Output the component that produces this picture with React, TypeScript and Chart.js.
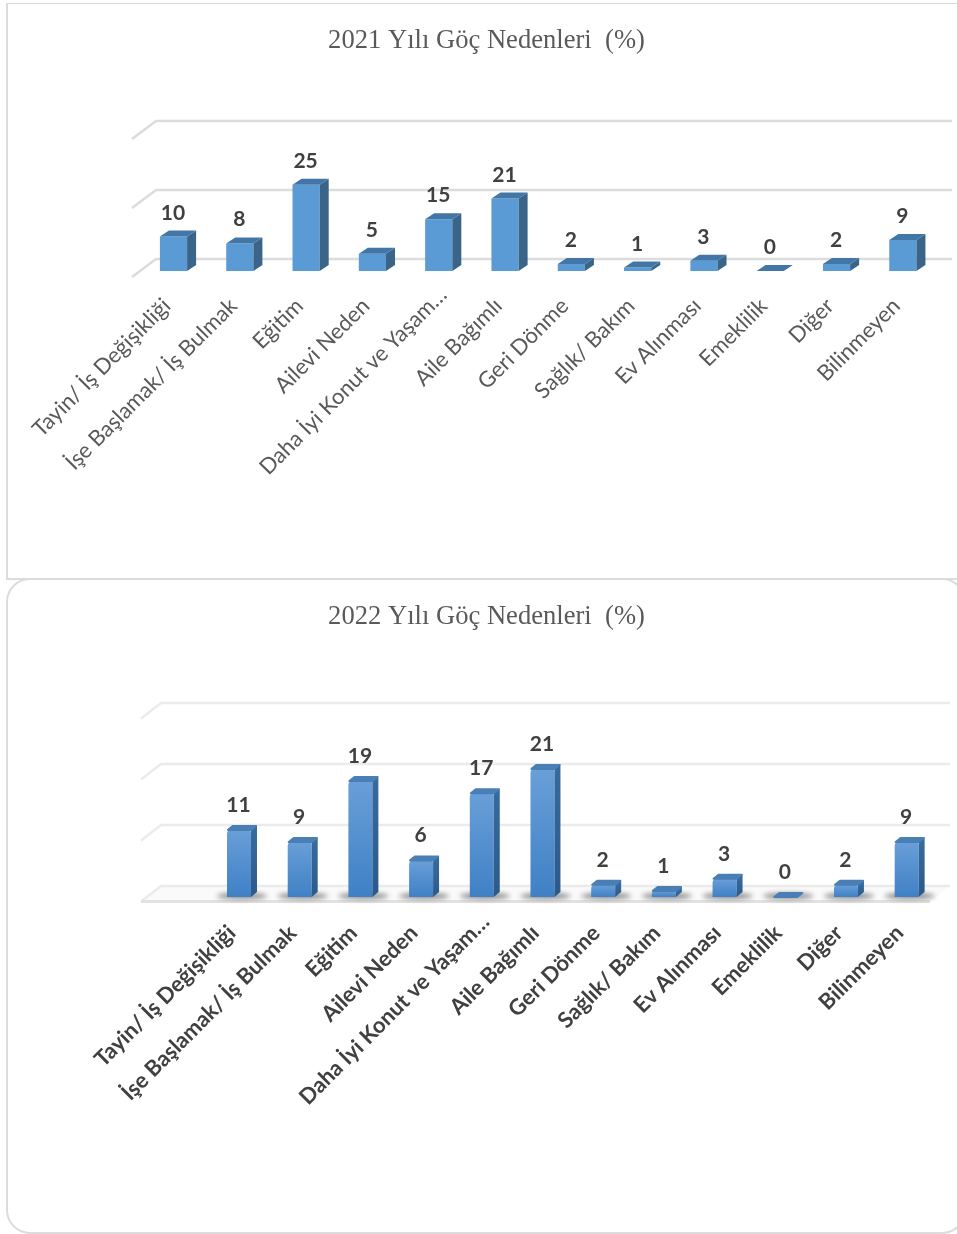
import React, { useEffect, useRef } from "react";
import { Chart, registerables } from "chart.js";

Chart.register(...registerables);

const categories = [
  "Tayin/ İş Değişikliği",
  "İşe Başlamak/ İş Bulmak",
  "Eğitim",
  "Ailevi Neden",
  "Daha İyi Konut ve Yaşam…",
  "Aile Bağımlı",
  "Geri Dönme",
  "Sağlık/ Bakım",
  "Ev Alınması",
  "Emeklilik",
  "Diğer",
  "Bilinmeyen",
];
const values2021 = [10, 8, 25, 5, 15, 21, 2, 1, 3, 0, 2, 9];
const values2022 = [11, 9, 19, 6, 17, 21, 2, 1, 3, 0, 2, 9];
const title2021 = "2021 Yılı Göç Nedenleri  (%)";
const title2022 = "2022 Yılı Göç Nedenleri  (%)";

type Look = {
  height: number;
  baseY: number;
  topY: number;
  titleCenter: number;
  left: number;
  right: number;
  max: number;
  step: number;
  barPct: number;
  dx: number;
  dy: number;
  gridDx: number;
  gridBack: number;
  gridFront: number;
  gridLeft: number;
  gridRightBack: number;
  gridRightFront: number | null;
  gridColor: string;
  labelWeight: string;
  labelColor: string;
  labelSize: number;
  labelPad: number;
  labelShift: number;
  valueGap: number;
  fancy: boolean;
};

const CANVAS_W = 973;
const TITLE_SIZE = 26.6;
const TRUNCATED_SHIFT = 11;

const look2021: Look = {
  height: 578, baseY: 271, topY: 133, titleCenter: 41, left: 140.35, right: 936,
  max: 40, step: 20, barPct: 0.41, dx: 9, dy: -6,
  gridDx: 24, gridBack: -12, gridFront: 6, gridLeft: 132, gridRightBack: 952, gridRightFront: null,
  gridColor: "#dcdcdc", labelWeight: "normal", labelColor: "#595959", labelSize: 22, labelPad: 14,
  labelShift: -6.5, valueGap: 14, fancy: false,
};
const look2022: Look = {
  height: 655, baseY: 318, topY: 135, titleCenter: 38, left: 208.65, right: 937,
  max: 30, step: 10, barPct: 0.395, dx: 6, dy: -5,
  gridDx: 20, gridBack: -11, gridFront: 4.5, gridLeft: 141, gridRightBack: 950, gridRightFront: 930,
  gridColor: "#ebebeb", labelWeight: "bold", labelColor: "#404040", labelSize: 22, labelPad: 15,
  labelShift: -7, valueGap: 15, fancy: true,
};

const depthPlugin = {
  id: "depth",
  beforeDraw(chart: any) {
    // the truncated label sits further up its slant than the others
    const items = chart.scales.x.getLabelItems(chart.chartArea);
    items.forEach((it: any) => {
      const text = Array.isArray(it.label) ? it.label[0] : it.label;
      if (String(text).endsWith("…") && !it.options.__moved) {
        it.options.translation = [it.options.translation[0] + TRUNCATED_SHIFT, it.options.translation[1] - TRUNCATED_SHIFT];
        it.options.__moved = true;
      }
    });
  },
  beforeDatasetsDraw(chart: any, _a: any, o: any) {
    const L: Look = o.look;
    const c = chart.ctx;
    const y = chart.scales.y;
    c.save();
    c.lineCap = "butt";
    y.ticks.forEach((t: any) => {
      const py = y.getPixelForValue(t.value);
      const isBase = t.value === 0;
      c.strokeStyle = L.gridColor;
      c.lineWidth = 2.5;
      if (isBase && L.gridRightFront) {
        c.fillStyle = "#fafafa";
        c.beginPath();
        c.moveTo(L.gridLeft, py + L.gridFront);
        c.lineTo(L.gridLeft + L.gridDx, py + L.gridBack);
        c.lineTo(L.gridRightBack, py + L.gridBack);
        c.lineTo(L.gridRightFront, py + L.gridFront);
        c.closePath();
        c.fill();
      }
      c.beginPath();
      c.moveTo(L.gridLeft, py + L.gridFront);
      c.lineTo(L.gridLeft + L.gridDx, py + L.gridBack);
      c.lineTo(L.gridRightBack, py + L.gridBack);
      c.stroke();
      if (isBase && L.gridRightFront) {
        c.strokeStyle = "#e2e2e2";
        c.lineWidth = 3;
        c.beginPath();
        c.moveTo(L.gridLeft, py + L.gridFront);
        c.lineTo(L.gridRightFront, py + L.gridFront);
        c.stroke();
      }
    });
    if (L.fancy) {
      const meta = chart.getDatasetMeta(0);
      c.filter = "blur(2.5px)";
      c.fillStyle = "rgba(70,70,70,0.6)";
      meta.data.forEach((b: any) => {
        c.beginPath();
        c.ellipse(b.x + 3, b.base - 1, b.width * 1.05, 3.2, 0, 0, Math.PI * 2);
        c.fill();
      });
      c.filter = "none";
    }
    c.restore();
  },
  afterDatasetsDraw(chart: any, _a: any, o: any) {
    const L: Look = o.look;
    const c = chart.ctx;
    const meta = chart.getDatasetMeta(0);
    c.save();
    meta.data.forEach((b: any, i: number) => {
      const l = b.x - b.width / 2;
      const r = b.x + b.width / 2;
      const t = b.y;
      const base = b.base;
      // side
      if (base - t > 0.5) {
        if (L.fancy) {
          const g = c.createLinearGradient(0, t, 0, base);
          g.addColorStop(0, "#376a9d");
          g.addColorStop(1, "#2b5a8a");
          c.fillStyle = g;
        } else {
          c.fillStyle = "#3b6588";
        }
        c.beginPath();
        c.moveTo(r, t);
        c.lineTo(r + L.dx, t + L.dy);
        c.lineTo(r + L.dx, base + L.dy);
        c.lineTo(r, base);
        c.closePath();
        c.fill();
      }
      // cap
      const capColor = L.fancy ? "#4a7fb6" : "#4276a6";
      c.fillStyle = capColor;
      c.beginPath();
      if (L.fancy) {
        c.lineJoin = "round";
        c.moveTo(l + 1, t);
        c.lineTo(l + L.dx, t + L.dy + 1);
        c.lineTo(r + L.dx - 1, t + L.dy + 1);
        c.lineTo(r, t);
      } else {
        c.moveTo(l, t);
        c.lineTo(l + L.dx, t + L.dy);
        c.lineTo(r + L.dx, t + L.dy);
        c.lineTo(r, t);
      }
      c.closePath();
      c.fill();
      if (L.fancy) {
        c.strokeStyle = capColor;
        c.lineWidth = 2;
        c.stroke();
      }
      // value label
      c.fillStyle = "#404040";
      c.font = 'bold 21px Lato, "Noto Sans", sans-serif';
      c.textAlign = "center";
      c.textBaseline = "alphabetic";
      c.fillText(String(chart.data.datasets[0].data[i]), b.x - 0.5, t - L.valueGap - 3);
    });
    c.restore();
  },
};

function OneChart({ values, title, look, top }: { values: number[]; title: string; look: Look; top: number }) {
  const ref = useRef<HTMLCanvasElement>(null);
  useEffect(() => {
    const titleH = TITLE_SIZE * 1.2;
    const padTop = look.titleCenter - titleH / 2;
    const sidePad = CANVAS_W - look.right;
    const chart = new Chart(ref.current as HTMLCanvasElement, {
      type: "bar",
      data: {
        labels: categories,
        datasets: [
          {
            data: values,
            barPercentage: look.barPct,
            categoryPercentage: 1,
            borderRadius: look.fancy ? { topLeft: 4, topRight: 3, bottomLeft: 0, bottomRight: 0 } : 0,
            borderSkipped: false,
            backgroundColor: look.fancy
              ? (ctx: any) => {
                  const el = ctx.chart.scales.y;
                  const v = ctx.raw ?? 0;
                  const y0 = el ? el.getPixelForValue(v) : NaN;
                  const y1 = el ? el.getPixelForValue(0) : NaN;
                  if (!isFinite(y0) || !isFinite(y1)) return "#5590cf";
                  const g = ctx.chart.ctx.createLinearGradient(0, y0, 0, y1);
                  g.addColorStop(0, "#699fd8");
                  g.addColorStop(1, "#3f80c5");
                  return g;
                }
              : "#5b9bd5",
          },
        ],
      },
      options: {
        animation: false,
        responsive: false,
        devicePixelRatio: 1,
        layout: { padding: { left: sidePad, right: sidePad, top: 0, bottom: 0 } },
        plugins: {
          legend: { display: false },
          tooltip: { enabled: false },
          title: {
            display: true,
            text: title,
            color: "#595959",
            font: { family: '"Liberation Serif", serif', size: TITLE_SIZE, weight: "normal", lineHeight: 1.2 },
            padding: { top: padTop, bottom: look.topY - padTop - titleH },
          },
          depth: { look },
        } as any,
        scales: {
          x: {
            grid: { display: false },
            border: { display: false },
            afterFit: (s: any) => {
              s.height = look.height - look.baseY;
            },
            ticks: {
              autoSkip: false,
              maxRotation: 45,
              minRotation: 45,
              padding: look.labelPad,
              labelOffset: look.labelShift,
              color: look.labelColor,
              font: { family: 'Lato, "Noto Sans", sans-serif', size: look.labelSize, weight: look.labelWeight as any },
            },
          },
          y: {
            min: 0,
            max: look.max,
            grid: { display: false },
            border: { display: false },
            afterFit: (s: any) => {
              s.width = look.left - sidePad;
            },
            ticks: { display: false, stepSize: look.step },
          },
        },
      },
      plugins: [depthPlugin as any],
    });
    return () => chart.destroy();
  }, []);
  return (
    <canvas
      ref={ref}
      width={CANVAS_W}
      height={look.height}
      style={{ position: "absolute", left: 0, top, width: CANVAS_W, height: look.height }}
    />
  );
}

export default function App() {
  return (
    <div style={{ position: "fixed", inset: 0, overflow: "hidden", background: "#fff" }}>
      <div
        style={{
          position: "absolute", left: 6, top: 3, width: 1000, height: 577, boxSizing: "border-box",
          border: "solid #dcdcdc", borderWidth: "1.5px 0 2px 2px",
        }}
      />
      <div
        style={{
          position: "absolute", left: 6, top: 578, width: 960, height: 656, boxSizing: "border-box",
          border: "2px solid #dcdcdc", borderRadius: 24,
        }}
      />
      <OneChart values={values2021} title={title2021} look={look2021} top={0} />
      <OneChart values={values2022} title={title2022} look={look2022} top={579} />
    </div>
  );
}
